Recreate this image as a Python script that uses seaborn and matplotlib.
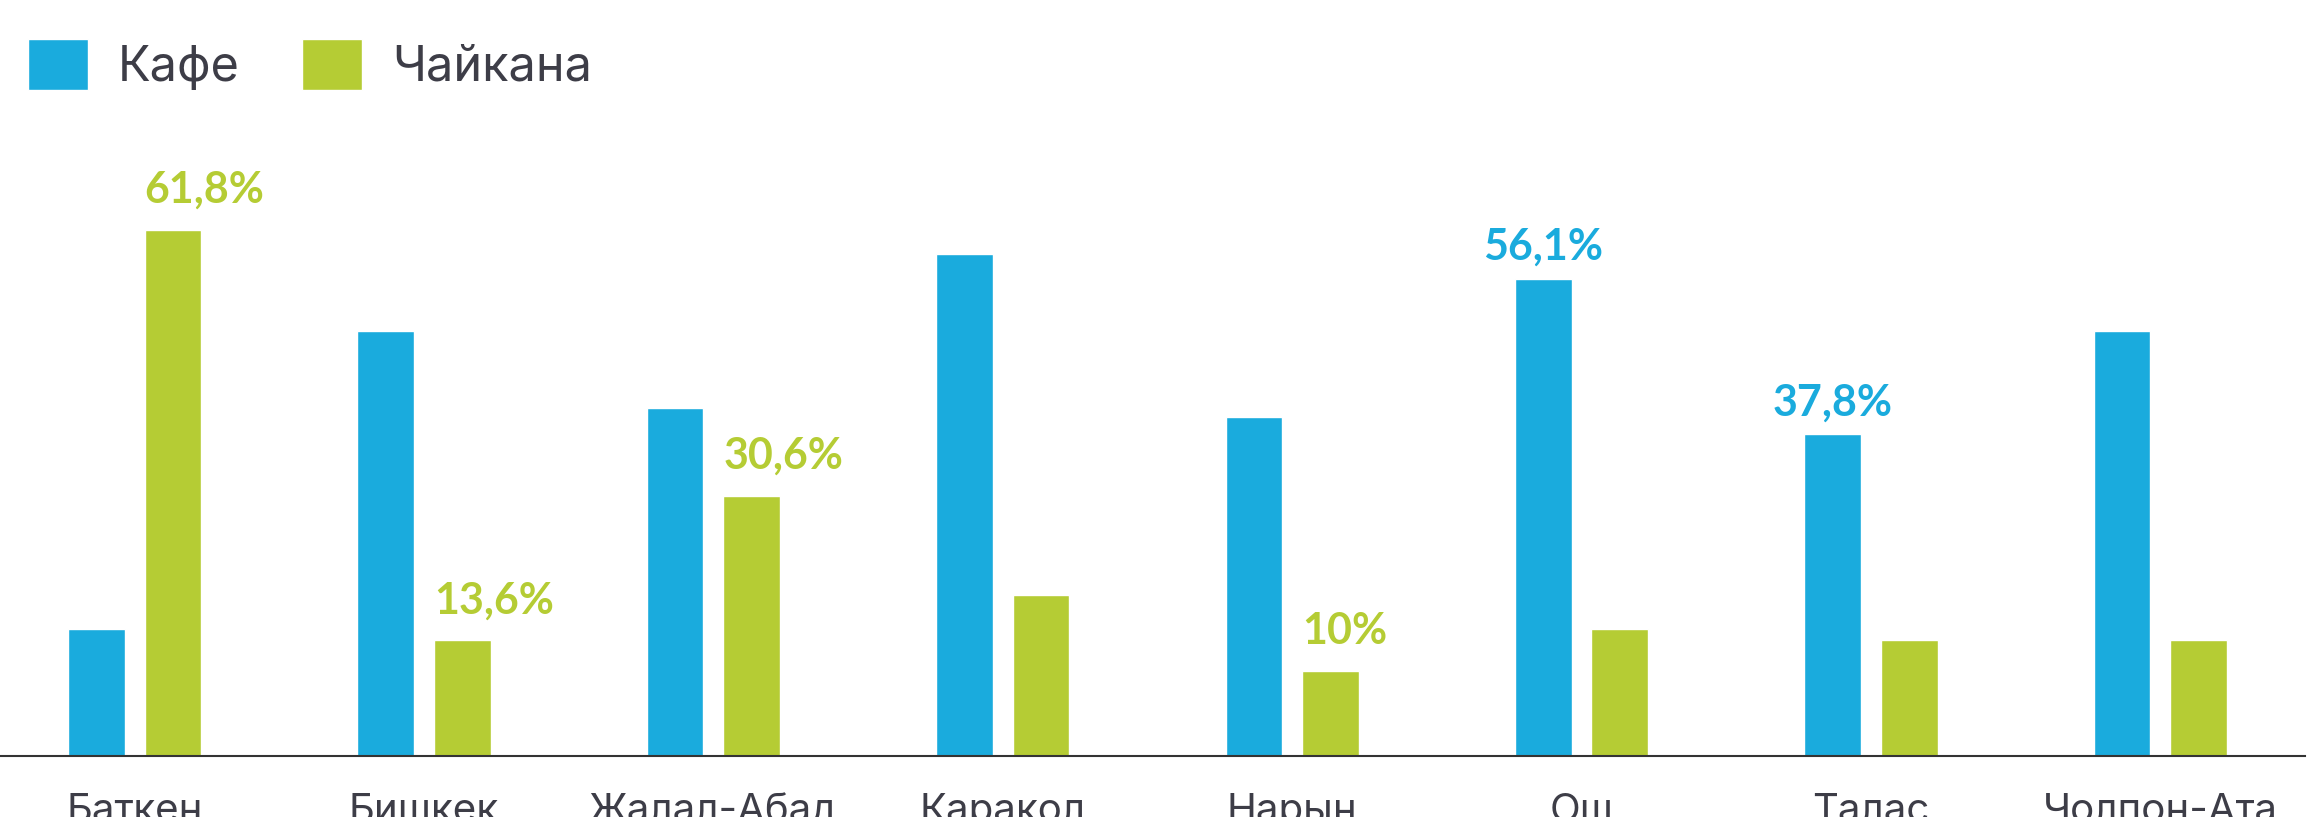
import pandas as pd
import matplotlib.pyplot as plt
import seaborn as sns

cities = ["Баткен", "Бишкек", "Жалал-Абад", "Каракол", "Нарын", "Ош", "Талас", "Чолпон-Ата"]
series = ["Кафе", "Чайкана"]
cafe = [14.9, 49.9, 40.9, 59.0, 39.8, 56.1, 37.8, 49.9]
chaikhana = [61.8, 13.6, 30.6, 18.9, 10.0, 14.9, 13.6, 13.6]
cafe_labels = ["", "", "", "", "", "56,1%", "37,8%", ""]
chaikhana_labels = ["61,8%", "13,6%", "30,6%", "", "10%", "", "", ""]

BLUE = "#1aabdd"
GREEN = "#b5cc34"
TEXT = "#3d3d47"

df = pd.DataFrame({
    "city": cities * 2,
    "value": cafe + chaikhana,
    "type": [series[0]] * len(cities) + [series[1]] * len(cities),
})

sns.set_style("white")
plt.rcParams["font.family"] = ["Inter", "DejaVu Sans"]

fig = plt.figure(figsize=(23.16, 8.17), dpi=100)
ax = fig.add_axes([0, 61 / 817, 2305 / 2316, 0.78])

sns.barplot(data=df, x="city", y="value", hue="type", palette=[BLUE, GREEN],
            width=0.529, gap=0.26, saturation=1, ax=ax)

ax.set_xlim(-0.465, 7.50)
ax.set_ylim(0, 0.78 * 817 / 8.51)

# value labels: blue ones centred, green ones from the bar's left edge
num_font = ["Lato", "Inter", "DejaVu Sans"]
for bar, lab in zip(ax.containers[0], cafe_labels):
    if lab:
        ax.annotate(lab, (bar.get_x() + bar.get_width() / 2, bar.get_height()),
                    xytext=(0, 13.7), textcoords="offset points", ha="center",
                    va="baseline", fontsize=31, fontweight="bold", color=BLUE,
                    family=num_font)
for bar, lab in zip(ax.containers[1], chaikhana_labels):
    if lab:
        ax.annotate(lab, (bar.get_x(), bar.get_height()),
                    xytext=(0, 19.4), textcoords="offset points", ha="left",
                    va="baseline", fontsize=31, fontweight="bold", color=GREEN,
                    family=num_font)

for s in ["top", "left", "right"]:
    ax.spines[s].set_visible(False)
ax.spines["bottom"].set_color("#333333")
ax.spines["bottom"].set_linewidth(1.5)
ax.set_yticks([])
ax.set_xlabel("")
ax.set_ylabel("")
ax.tick_params(axis="x", length=0, pad=27, labelsize=29, labelcolor=TEXT)

handles, labels = ax.get_legend_handles_labels()
ax.legend(handles, labels, loc="upper left", bbox_to_anchor=(28 / 2316, 1 - 39 / 817),
          bbox_transform=fig.transFigure, ncol=2, frameon=False, fontsize=35,
          handlelength=1.23, handleheight=1.23, handletextpad=0.62,
          columnspacing=1.28, borderpad=0, borderaxespad=0, labelcolor=TEXT)

fig.savefig("out.png", dpi=100)
